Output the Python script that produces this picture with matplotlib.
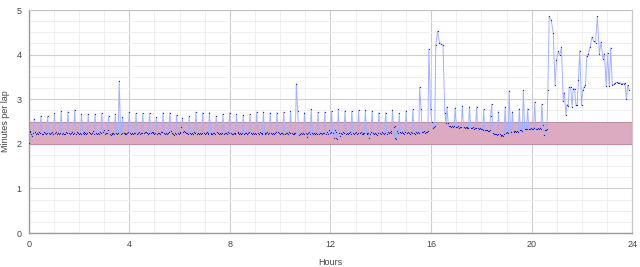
import numpy as np
import matplotlib.pyplot as plt
from matplotlib.ticker import MultipleLocator

# Lap times in minutes, one row per stint (base laps then the pit lap)
lap_minutes = [
    2.02, 2.29, 2.27, 2.21, 2.17, 2.24, 2.55,
    2.26, 2.23, 2.25, 2.22, 2.27, 2.24, 2.63,
    2.23, 2.21, 2.26, 2.24, 2.22, 2.25, 2.62,
    2.25, 2.22, 2.24, 2.27, 2.23, 2.21, 2.68,
    2.24, 2.26, 2.22, 2.25, 2.23, 2.24, 2.73,
    2.22, 2.25, 2.23, 2.21, 2.26, 2.24, 2.72,
    2.25, 2.23, 2.24, 2.26, 2.22, 2.25, 2.76,
    2.23, 2.26, 2.24, 2.22, 2.25, 2.23, 2.67,
    2.24, 2.22, 2.27, 2.25, 2.23, 2.24, 2.67,
    2.26, 2.24, 2.22, 2.25, 2.28, 2.23, 2.67,
    2.24, 2.21, 2.25, 2.23, 2.26, 2.24, 2.68,
    2.27, 2.30, 2.22, 2.24, 2.25, 2.31, 2.62,
    2.23, 2.20, 2.24, 2.22, 2.25, 2.21, 2.66,
    2.24, 2.22, 2.25, 3.41, 2.23, 2.24, 2.60,
    2.24, 2.22, 2.25, 2.23, 2.24, 2.26, 2.71,
    2.25, 2.23, 2.24, 2.22, 2.25, 2.24, 2.68,
    2.22, 2.24, 2.26, 2.23, 2.25, 2.24, 2.68,
    2.24, 2.26, 2.27, 2.25, 2.23, 2.24, 2.68,
    2.25, 2.27, 2.26, 2.24, 2.23, 2.25, 2.59,
    2.23, 2.25, 2.24, 2.22, 2.26, 2.27, 2.70,
    2.24, 2.22, 2.25, 2.23, 2.24, 2.26, 2.70,
    2.28, 2.25, 2.23, 2.20, 2.24, 2.22, 2.64,
    2.25, 2.23, 2.27, 2.24, 2.38, 2.57,
    2.26, 2.28, 2.27, 2.24, 2.25, 2.23, 2.62,
    2.24, 2.22, 2.25, 2.23, 2.26, 2.24, 2.71,
    2.23, 2.25, 2.22, 2.24, 2.23, 2.25, 2.70,
    2.25, 2.23, 2.24, 2.26, 2.22, 2.24, 2.70,
    2.24, 2.22, 2.23, 2.25, 2.24, 2.23, 2.62,
    2.26, 2.24, 2.22, 2.25, 2.23, 2.24, 2.66,
    2.23, 2.25, 2.24, 2.22, 2.26, 2.24, 2.70,
    2.25, 2.23, 2.22, 2.24, 2.25, 2.23, 2.66,
    2.24, 2.26, 2.23, 2.25, 2.22, 2.24, 2.64,
    2.22, 2.24, 2.25, 2.23, 2.24, 2.26, 2.66,
    2.25, 2.23, 2.24, 2.22, 2.25, 2.23, 2.71,
    2.24, 2.22, 2.26, 2.24, 2.23, 2.25, 2.71,
    2.23, 2.25, 2.24, 2.26, 2.22, 2.24, 2.70,
    2.24, 2.23, 2.25, 2.22, 2.24, 2.26, 2.70,
    2.26, 2.24, 2.23, 2.25, 2.24, 2.22, 2.71,
    2.23, 2.25, 2.24, 2.22, 2.26, 2.24, 2.73,
    2.24, 2.22, 2.25, 2.23, 2.24, 3.35, 2.73,
    2.20, 2.23, 2.25, 2.22, 2.24, 2.23, 2.70,
    2.25, 2.23, 2.16, 2.24, 2.26, 2.22, 2.78,
    2.24, 2.22, 2.25, 2.23, 2.24, 2.22, 2.71,
    2.23, 2.25, 2.24, 2.22, 2.25, 2.24, 2.71,
    2.22, 2.26, 2.23, 2.30, 2.25, 2.27, 2.73,
    2.24, 2.14, 2.30, 2.12, 2.27, 2.10, 2.77,
    2.25, 2.18, 2.24, 2.22, 2.26, 2.24, 2.74,
    2.23, 2.25, 2.22, 2.24, 2.27, 2.23, 2.74,
    2.25, 2.22, 2.24, 2.26, 2.23, 2.25, 2.75,
    2.24, 2.26, 2.23, 2.21, 2.25, 2.24, 2.75,
    2.22, 2.25, 2.24, 2.12, 2.23, 2.26, 2.74,
    2.24, 2.22, 2.25, 2.23, 2.20, 2.24, 2.70,
    2.25, 2.23, 2.26, 2.24, 2.22, 2.25, 2.70,
    2.23, 2.26, 2.24, 2.27, 2.25, 2.29, 2.76,
    2.38, 2.12, 2.40, 2.11, 2.28, 2.25, 2.68,
    2.26, 2.24, 2.27, 2.25, 2.23, 2.26, 2.74,
    2.24, 2.27, 2.25, 2.23, 2.26, 2.24, 2.77,
    2.25, 2.23, 2.26, 2.24, 2.27, 2.25, 3.27, 2.77,
    2.27, 2.26, 2.28, 2.25, 2.27, 2.26, 2.28, 4.12,
    2.79, 2.49, 2.35, 2.38, 2.41,
    4.21, 4.53, 4.27, 4.24, 4.21,
    2.70, 2.46, 2.83, 2.46,
    2.40, 2.39, 2.38, 2.40, 2.37, 2.39, 2.81,
    2.38, 2.37, 2.39, 2.36, 2.38, 2.37, 2.85,
    2.37, 2.36, 2.38, 2.35, 2.37, 2.36, 2.83,
    2.36, 2.35, 2.37, 2.34, 2.36, 2.35, 2.83,
    2.35, 2.34, 2.36, 2.33, 2.34, 2.32, 2.77,
    2.32, 2.30, 2.31, 2.28, 2.29, 2.30, 2.62, 2.89,
    2.24, 2.22, 2.21, 2.23, 2.20, 2.22, 2.72,
    2.21, 2.19, 2.17, 2.20, 2.18, 2.22, 2.83,
    2.24, 2.26, 2.25, 3.19,
    2.27, 2.26, 2.72,
    2.28, 2.27, 2.29, 2.26, 2.28, 2.27, 2.79,
    2.30, 2.31, 2.29, 3.20,
    2.33, 2.34, 2.33, 2.79,
    2.34, 2.33, 2.35, 2.34, 2.33, 2.35, 2.94,
    2.34, 2.33, 2.35, 2.34, 2.36, 2.34, 2.89,
    2.42, 2.19, 2.30, 2.32, 2.33, 3.20,
    4.86, 4.77, 4.49, 3.31, 3.87, 4.07, 4.00, 4.16,
    2.95, 3.15, 2.65, 2.88, 2.84, 3.27, 3.27, 2.83, 3.24, 3.24, 2.86, 2.86,
    3.44, 4.09, 2.86, 3.20, 3.27, 3.31,
    3.96, 4.02, 4.17, 4.39, 4.30, 4.27, 4.86, 4.02, 4.28, 3.91, 4.02,
    3.29, 4.04, 3.29, 4.15, 3.31, 3.33, 3.36, 3.38, 3.37, 3.37,
    3.35, 3.35, 3.35, 3.36, 3.00, 3.31, 3.20,
]

target_low = 2.0
target_high = 2.5
x_ticks = [0, 4, 8, 12, 16, 20, 24]
y_ticks = [0, 1, 2, 3, 4, 5]

laps = np.array(lap_minutes)
# x is the elapsed time (hours) at the start of each lap
hours = np.concatenate([[0.0], np.cumsum(laps)[:-1]]) / 60.0

plt.rcParams['font.family'] = ['Liberation Sans', 'DejaVu Sans']

fig = plt.figure(figsize=(6.4, 2.67), dpi=100)
ax = fig.add_axes([0.0448, 0.1273, 0.9432, 0.8352])

ax.axhspan(target_low, target_high, facecolor='#dcaac1', edgecolor='#c98ba9',
           linewidth=0.8, zorder=1)
ax.plot(hours, laps, color='#a3b2ff', linewidth=0.7, zorder=2)
ax.plot(hours, laps, linestyle='none', marker='o', markersize=0.9,
        markeredgewidth=0, color='#2020b8', zorder=3)

ax.set_xlim(0, 24)
ax.set_ylim(0, 5)
ax.set_xticks(x_ticks)
ax.set_yticks(y_ticks)
ax.xaxis.set_minor_locator(MultipleLocator(1))
ax.yaxis.set_minor_locator(MultipleLocator(0.25))
ax.grid(which='major', color='#cfcfcf', linewidth=0.8, zorder=0)
ax.grid(which='minor', color='#ededed', linewidth=0.6, zorder=0)
ax.set_axisbelow(True)

for side in ['top', 'right']:
    ax.spines[side].set_color('#c4c4c4')
for side in ['left', 'bottom']:
    ax.spines[side].set_color('#9a9a9a')
    ax.spines[side].set_linewidth(1.0)

ax.tick_params(which='both', length=0, labelsize=6.5, labelcolor='#444444')
ax.tick_params(axis='y', pad=5)
ax.tick_params(axis='x', pad=5)

ax.set_xlabel('Hours', fontsize=6.5, color='#444444')
ax.set_ylabel('Minutes per lap', fontsize=6.5, color='#444444')
ax.xaxis.set_label_coords(0.5, -0.112)
ax.yaxis.set_label_coords(-0.031, 0.5)

fig.savefig('out.png', dpi=100)
